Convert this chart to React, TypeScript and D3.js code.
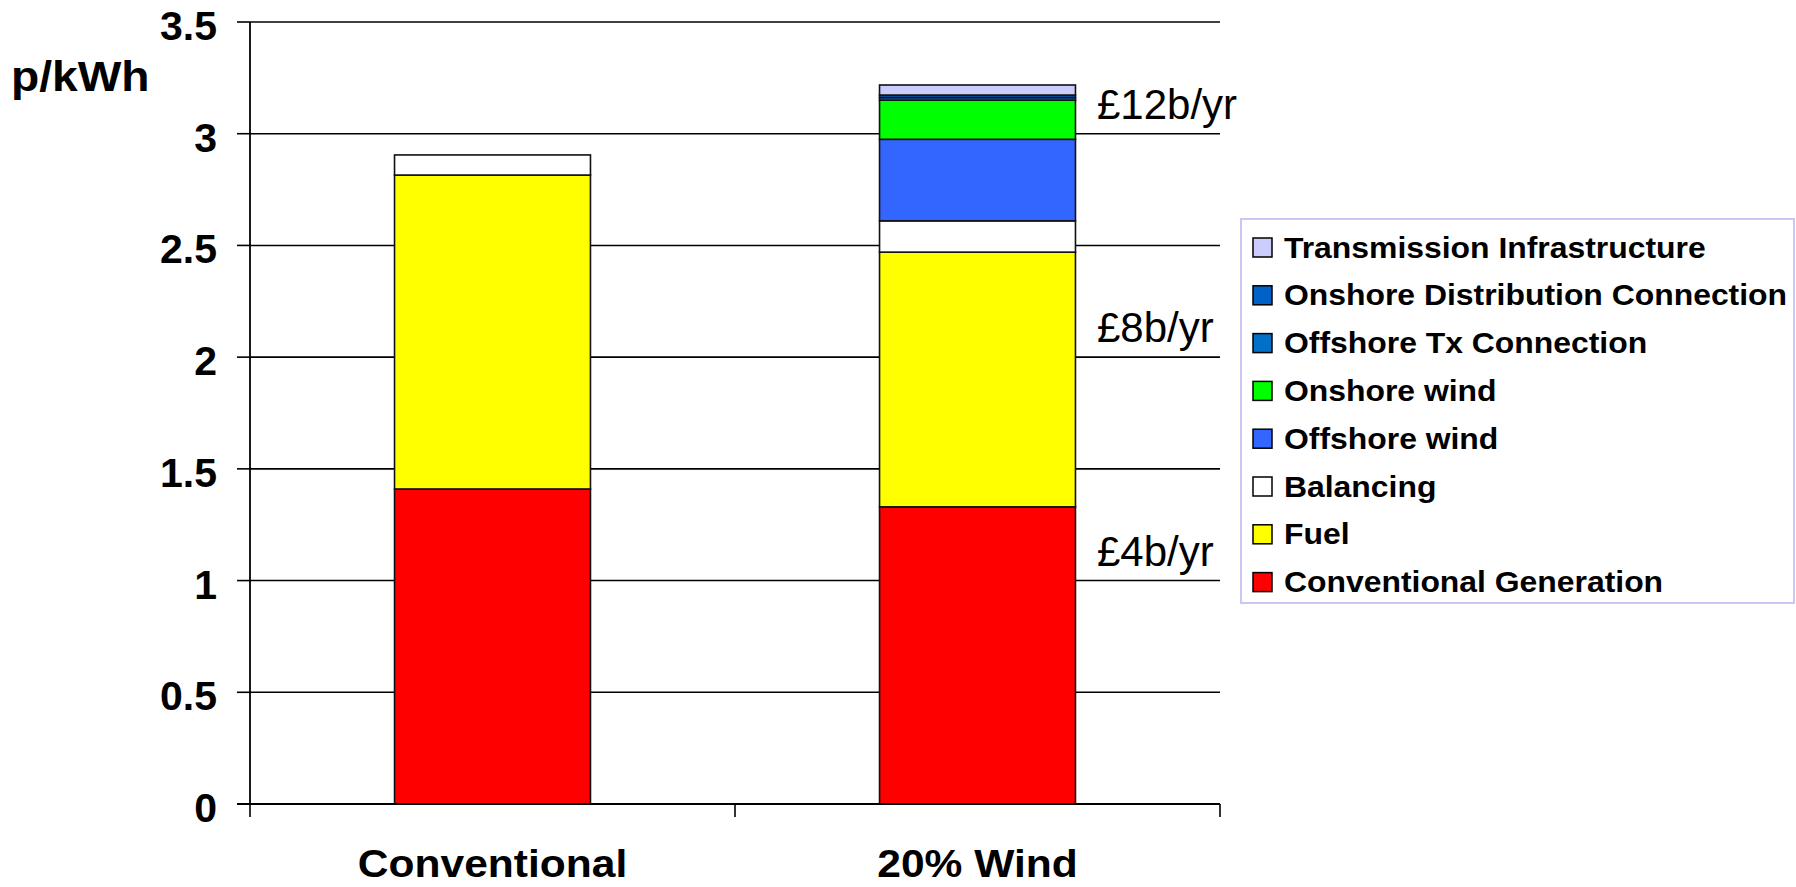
import React from "react";
import * as d3 from "d3";

// Cost of electricity, p/kWh, split by component
const categories = ["Conventional", "20% Wind"];
const conventionalGeneration = [1.41, 1.33];
const fuel = [1.405, 1.14];
const balancing = [0.09, 0.14];
const offshoreWind = [0, 0.365];
const onshoreWind = [0, 0.175];
const offshoreTxConnection = [0, 0.012];
const onshoreDistributionConnection = [0, 0.011];
const transmissionInfrastructure = [0, 0.045];

// Stack order, bottom to top
const seriesNames = [
  "Conventional Generation",
  "Fuel",
  "Balancing",
  "Offshore wind",
  "Onshore wind",
  "Offshore Tx Connection",
  "Onshore Distribution Connection",
  "Transmission Infrastructure",
];
const seriesValues = [
  conventionalGeneration,
  fuel,
  balancing,
  offshoreWind,
  onshoreWind,
  offshoreTxConnection,
  onshoreDistributionConnection,
  transmissionInfrastructure,
];
const seriesColors = [
  "#ff0000",
  "#ffff00",
  "#ffffff",
  "#3366ff",
  "#00ff00",
  "#0070c8",
  "#0062c8",
  "#ccccff",
];

const yTicks = [0, 0.5, 1, 1.5, 2, 2.5, 3, 3.5];
const yTickLabels = ["0", "0.5", "1", "1.5", "2", "2.5", "3", "3.5"];

// Annual cost notes placed just above the gridline they refer to
const noteTexts = ["£12b/yr", "£8b/yr", "£4b/yr"];
const noteLevels = [3, 2, 1];

const W = 1796;
const H = 887;
const FONT = "'Liberation Sans', Arial, Helvetica, sans-serif";

export default function App() {
  const x0 = 250;
  const x1 = 1220;
  const x = d3
    .scaleBand<string>()
    .domain(categories)
    .range([x0, x1])
    .paddingInner(0.596)
    .paddingOuter(0.298);
  const y = d3.scaleLinear().domain([0, 3.5]).range([804, 22]);

  const table = categories.map((c, i) => {
    const row: Record<string, any> = { category: c };
    seriesNames.forEach((s, j) => (row[s] = seriesValues[j][i]));
    return row;
  });
  const stacked = d3.stack<any>().keys(seriesNames)(table);

  const step = x.step();
  const xTickPositions = [
    x0,
    ...categories.slice(1).map((c) => (x(c) as number) + x.bandwidth() / 2 - step / 2),
    x1,
  ];

  const legendNames = seriesNames.slice().reverse();
  const legendColors = seriesColors.slice().reverse();
  const legendX = 1241;
  const legendY = 219;
  const legendW = 553;
  const legendH = 384;
  const rowStep = 47.8;
  const firstRow = 247.5;

  return (
    <svg
      width={W}
      height={H}
      style={{ position: "absolute", left: 0, top: 0, background: "#ffffff" }}
      fontFamily={FONT}
    >
      {/* gridlines */}
      {yTicks.slice(1).map((t) => (
        <line key={"g" + t} x1={x0} x2={x1} y1={y(t)} y2={y(t)} stroke="#000" strokeWidth={1.6} />
      ))}

      {/* stacked bars */}
      {stacked.map((layer, j) => (
        <g key={seriesNames[j]}>
          {layer.map((d, i) => {
            const h = y(d[0]) - y(d[1]);
            if (seriesValues[j][i] <= 0) return null;
            return (
              <rect
                key={i}
                x={x(categories[i])}
                y={y(d[1])}
                width={x.bandwidth()}
                height={h}
                fill={seriesColors[j]}
                stroke="#111"
                strokeWidth={1.6}
              />
            );
          })}
        </g>
      ))}

      {/* axes */}
      <line x1={x0} x2={x0} y1={y(3.5)} y2={y(0)} stroke="#000" strokeWidth={1.8} />
      <line x1={x0 - 13} x2={x1} y1={y(0)} y2={y(0)} stroke="#000" strokeWidth={1.8} />
      {yTicks.map((t) => (
        <line key={"yt" + t} x1={x0 - 13} x2={x0} y1={y(t)} y2={y(t)} stroke="#000" strokeWidth={1.6} />
      ))}
      {xTickPositions.map((p, i) => (
        <line key={"xt" + i} x1={p} x2={p} y1={y(0)} y2={y(0) + 13} stroke="#000" strokeWidth={1.6} />
      ))}
      {yTicks.map((t, i) => (
        <text
          key={"yl" + t}
          x={217}
          y={y(t) + 18}
          textAnchor="end"
          fontSize={41}
          fontWeight="bold"
          fill="#000"
        >
          {yTickLabels[i]}
        </text>
      ))}

      {/* category labels */}
      {categories.map((c) => (
        <text
          key={c}
          transform={`translate(${(x(c) as number) + x.bandwidth() / 2},877) scale(1.12,1)`}
          textAnchor="middle"
          fontSize={38}
          fontWeight="bold"
          fill="#000"
        >
          {c}
        </text>
      ))}

      {/* unit label */}
      <text transform="translate(11,91) scale(1.1,1)" fontSize={42} fontWeight="bold" fill="#000">
        p/kWh
      </text>

      {/* cost notes */}
      {noteTexts.map((t, i) => (
        <text key={t} x={1097} y={y(noteLevels[i]) - 15} fontSize={42} fill="#000">
          {t}
        </text>
      ))}

      {/* legend */}
      <rect x={legendX} y={legendY} width={legendW} height={legendH} fill="#fff" stroke="#c8c8f4" strokeWidth={2} />
      {legendNames.map((n, i) => {
        const cy = firstRow + i * rowStep;
        return (
          <g key={n}>
            <rect x={1253} y={cy - 9.5} width={19} height={19} fill={legendColors[i]} stroke="#000" strokeWidth={1.5} />
            <text
              transform={`translate(1284,${cy + 10}) scale(1.1,1)`}
              fontSize={29}
              fontWeight="bold"
              fill="#000"
            >
              {n}
            </text>
          </g>
        );
      })}
    </svg>
  );
}
